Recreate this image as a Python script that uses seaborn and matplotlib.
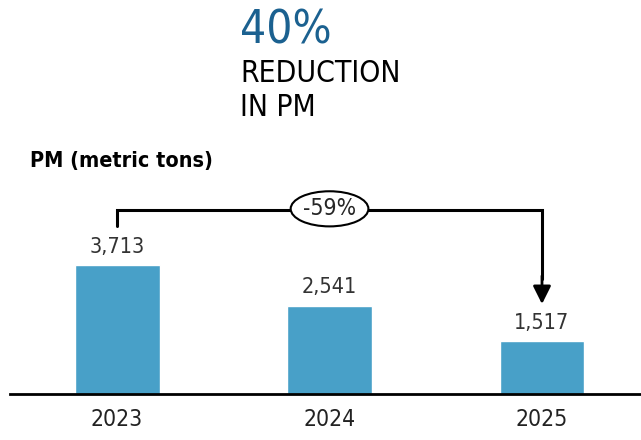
import pandas as pd
import seaborn as sns
import matplotlib.pyplot as plt

# Chart data
years = ['2023', '2024', '2025']
pm_tons = [3713, 2541, 1517]
change_label = '-59%'
headline = '40%'
headline_sub = 'REDUCTION\nIN PM'

df = pd.DataFrame({'Year': years, 'PM': pm_tons})

sns.set_theme(style='white')
plt.rcParams['font.family'] = ['DejaVu Sans']
plt.rcParams['font.stretch'] = 'condensed'

fig = plt.figure(figsize=(6.41, 4.40), dpi=100)
ax = fig.add_axes([10 / 641, 46 / 440, 631 / 641, 254 / 440])

sns.barplot(data=df, x='Year', y='PM', color='#48a0c8', width=0.4,
            saturation=1, ax=ax)

ax.set_xlim(-0.504, 2.466)
ax.set_ylim(0, 7311)
ax.set_xlabel('')
ax.set_ylabel('')
ax.set_yticks([])
for s in ['top', 'left', 'right']:
    ax.spines[s].set_visible(False)
ax.spines['bottom'].set_color('black')
ax.spines['bottom'].set_linewidth(2)
ax.tick_params(axis='x', length=0, pad=10, labelsize=16.5, labelcolor='#222222')

# value labels
ax.bar_label(ax.containers[0], labels=[f'{v:,}' for v in pm_tons],
             padding=6, fontsize=15.5, color='#333333')

# bracket from 2023 to 2025
y_top = 5282
ax.plot([0, 0, 2, 2], [4836, y_top, y_top, 3300], color='black', lw=2.2,
        solid_joinstyle='miter')
ax.annotate('', xy=(2, 2590), xytext=(2, 3400),
            arrowprops=dict(arrowstyle='-|>,head_width=0.45,head_length=0.9',
                            color='black', lw=2, shrinkA=0, shrinkB=0))
ax.text(1, 5330, change_label, ha='center', va='center', fontsize=16.5,
        bbox=dict(boxstyle='ellipse,pad=0.04', fc='white', ec='black', lw=1.5))

# headline texts
fig.text(240 / 641, 1 - 9 / 440, headline, ha='left', va='top',
         fontsize=33, color='#1b6190')
fig.text(240 / 641, 1 - 59 / 440, headline_sub, ha='left', va='top',
         fontsize=21.5, color='black', linespacing=1.2)
fig.text(30 / 641, 1 - 151 / 440, 'PM (metric tons)', ha='left', va='top',
         fontsize=15.5, fontweight='bold', color='black')

fig.savefig('out.png', dpi=100)
